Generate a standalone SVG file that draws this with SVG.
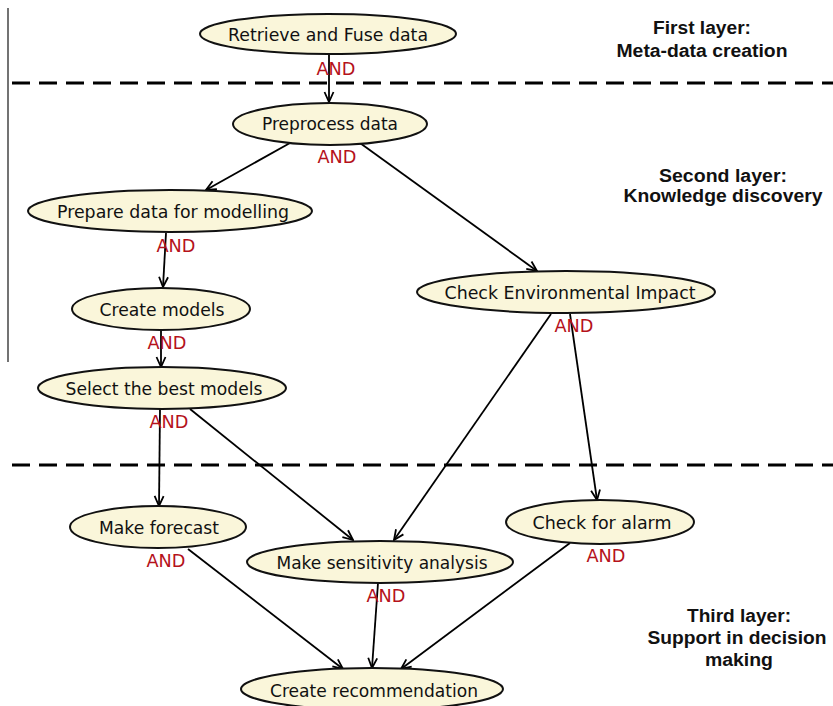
<svg xmlns="http://www.w3.org/2000/svg" width="833" height="706" viewBox="0 0 833 706">
  <defs>
    <marker id="arr" viewBox="0 0 12 12" refX="11" refY="6" markerWidth="12" markerHeight="12" orient="auto" markerUnits="userSpaceOnUse">
      <path d="M1,1.5 L11,6 L1,10.5" fill="none" stroke="#000" stroke-width="1.8"/>
    </marker>
    <style>
      .node ellipse { fill: #faf6da; stroke: #111; stroke-width: 2; }
      .node text { font-family: "DejaVu Sans", sans-serif; font-size: 18.5px; fill: #111; text-anchor: middle; }
      .and { font-family: "DejaVu Sans", sans-serif; font-size: 18px; fill: #b5121b; text-anchor: middle; }
      .layer { font-family: "Liberation Sans", Arial, sans-serif; font-size: 18px; font-weight: bold; fill: #111; text-anchor: middle; }
      .edge { stroke: #000; stroke-width: 1.8; fill: none; marker-end: url(#arr); }
      .sep { stroke: #000; stroke-width: 3; stroke-dasharray: 18 9; }
    </style>
  </defs>

  <rect width="833" height="706" fill="#fff"/>

  <!-- left margin rule and layer separators -->
  <line x1="8" y1="8" x2="8" y2="362" stroke="#444" stroke-width="1.5"/>
  <line class="sep" x1="12" y1="83" x2="833" y2="83"/>
  <line class="sep" x1="12" y1="465" x2="833" y2="465"/>

  <!-- layer captions -->
  <g id="layer-labels">
    <text class="layer" x="702" y="34" textLength="98" lengthAdjust="spacingAndGlyphs">First layer:</text>
    <text class="layer" x="702" y="57" textLength="171" lengthAdjust="spacingAndGlyphs">Meta-data creation</text>
    <text class="layer" x="723" y="182" textLength="128" lengthAdjust="spacingAndGlyphs">Second layer:</text>
    <text class="layer" x="723" y="202" textLength="199" lengthAdjust="spacingAndGlyphs">Knowledge discovery</text>
    <text class="layer" x="739" y="622" textLength="104" lengthAdjust="spacingAndGlyphs">Third layer:</text>
    <text class="layer" x="737" y="644" textLength="179" lengthAdjust="spacingAndGlyphs">Support in decision</text>
    <text class="layer" x="739" y="666" textLength="68" lengthAdjust="spacingAndGlyphs">making</text>
  </g>

  <!-- connectors -->
  <g id="edges">
    <line class="edge" x1="329" y1="54" x2="329" y2="102"/>
    <line class="edge" x1="290" y1="143" x2="206" y2="190"/>
    <line class="edge" x1="360" y1="143" x2="537" y2="271"/>
    <line class="edge" x1="166" y1="233" x2="163" y2="287"/>
    <line class="edge" x1="161" y1="330" x2="161" y2="367"/>
    <line class="edge" x1="160" y1="409" x2="159" y2="506"/>
    <line class="edge" x1="190" y1="409" x2="353" y2="540"/>
    <line class="edge" x1="551" y1="314" x2="394" y2="540"/>
    <line class="edge" x1="570" y1="314" x2="597" y2="500"/>
    <line class="edge" x1="188" y1="549" x2="343" y2="669"/>
    <line class="edge" x1="378" y1="583" x2="372" y2="668"/>
    <line class="edge" x1="570" y1="543" x2="401" y2="669"/>
  </g>

  <!-- nodes -->
  <g id="retrieve" class="node">
    <ellipse cx="328" cy="34" rx="128" ry="20"/>
    <text x="328" y="41" textLength="200" lengthAdjust="spacingAndGlyphs">Retrieve and Fuse data</text>
  </g>
  <g id="preprocess" class="node">
    <ellipse cx="330" cy="124" rx="97" ry="21"/>
    <text x="330" y="130" textLength="136" lengthAdjust="spacingAndGlyphs">Preprocess data</text>
  </g>
  <g id="prepare" class="node">
    <ellipse cx="170" cy="211" rx="142" ry="21"/>
    <text x="173" y="218" textLength="232" lengthAdjust="spacingAndGlyphs">Prepare data for modelling</text>
  </g>
  <g id="create-models" class="node">
    <ellipse cx="161" cy="309" rx="89" ry="21"/>
    <text x="162" y="316" textLength="125" lengthAdjust="spacingAndGlyphs">Create models</text>
  </g>
  <g id="select-best" class="node">
    <ellipse cx="162" cy="388" rx="124" ry="21"/>
    <text x="164" y="395" textLength="197" lengthAdjust="spacingAndGlyphs">Select the best models</text>
  </g>
  <g id="env-impact" class="node">
    <ellipse cx="566" cy="292" rx="149" ry="21"/>
    <text x="570" y="299" textLength="251" lengthAdjust="spacingAndGlyphs">Check Environmental Impact</text>
  </g>
  <g id="alarm" class="node">
    <ellipse cx="600" cy="522" rx="94" ry="22"/>
    <text x="602" y="529" textLength="139" lengthAdjust="spacingAndGlyphs">Check for alarm</text>
  </g>
  <g id="forecast" class="node">
    <ellipse cx="158" cy="527" rx="88" ry="21"/>
    <text x="159" y="534" textLength="120" lengthAdjust="spacingAndGlyphs">Make forecast</text>
  </g>
  <g id="sensitivity" class="node">
    <ellipse cx="380" cy="562" rx="133" ry="21"/>
    <text x="382" y="569" textLength="211" lengthAdjust="spacingAndGlyphs">Make sensitivity analysis</text>
  </g>
  <g id="recommendation" class="node">
    <ellipse cx="372" cy="689" rx="131" ry="21"/>
    <text x="374" y="697" textLength="208" lengthAdjust="spacingAndGlyphs">Create recommendation</text>
  </g>

  <!-- AND gates -->
  <g id="and-labels">
    <text class="and" x="336" y="75" textLength="39" lengthAdjust="spacingAndGlyphs">AND</text>
    <text class="and" x="337" y="163" textLength="39" lengthAdjust="spacingAndGlyphs">AND</text>
    <text class="and" x="176" y="252" textLength="39" lengthAdjust="spacingAndGlyphs">AND</text>
    <text class="and" x="167" y="349" textLength="39" lengthAdjust="spacingAndGlyphs">AND</text>
    <text class="and" x="169" y="428" textLength="39" lengthAdjust="spacingAndGlyphs">AND</text>
    <text class="and" x="574" y="332" textLength="39" lengthAdjust="spacingAndGlyphs">AND</text>
    <text class="and" x="606" y="562" textLength="39" lengthAdjust="spacingAndGlyphs">AND</text>
    <text class="and" x="166" y="567" textLength="39" lengthAdjust="spacingAndGlyphs">AND</text>
    <text class="and" x="386" y="602" textLength="39" lengthAdjust="spacingAndGlyphs">AND</text>
  </g>
</svg>
